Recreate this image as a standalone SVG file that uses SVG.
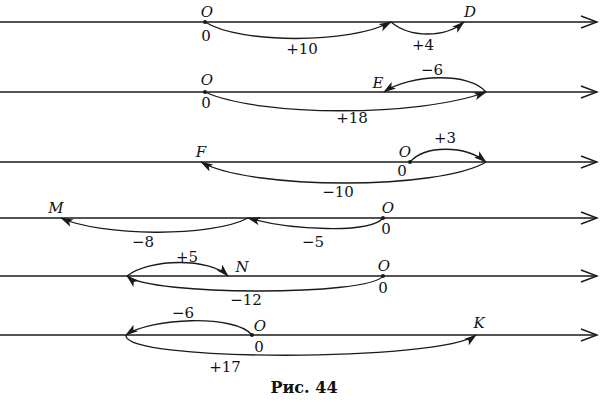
<svg xmlns="http://www.w3.org/2000/svg" width="613" height="402" viewBox="0 0 613 402">
<style>
.ax{stroke:#1a1a1a;stroke-width:1.4;fill:none}
.hd{stroke:#1a1a1a;stroke-width:1.4;fill:none;stroke-linejoin:miter}
.c{stroke:#1a1a1a;stroke-width:1.3;fill:none;marker-end:url(#ah)}
.t{font-family:"DejaVu Serif","Liberation Serif",serif;font-size:15px;fill:#111;text-anchor:middle}
.i{font-style:italic}
.cap{font-family:"DejaVu Serif","Liberation Serif",serif;font-size:16px;font-weight:bold;fill:#111;text-anchor:middle}
.d{fill:#1a1a1a}
</style>
<defs>
<marker id="ah" markerUnits="userSpaceOnUse" markerWidth="13" markerHeight="9" refX="12" refY="4.5" orient="auto" viewBox="0 0 13 9">
<path d="M0,0.5 L13,4.5 L0,8.5 L3,4.5 z" fill="#1a1a1a"/>
</marker>
</defs>
<g id="axes">
<path class="ax" d="M0,22 H597"/><path class="hd" d="M581,16 L597,22 L581,28"/>
<path class="ax" d="M0,92 H597"/><path class="hd" d="M581,86 L597,92 L581,98"/>
<path class="ax" d="M0,162 H597"/><path class="hd" d="M581,156 L597,162 L581,168"/>
<path class="ax" d="M0,218 H597"/><path class="hd" d="M581,212 L597,218 L581,224"/>
<path class="ax" d="M0,276 H597"/><path class="hd" d="M581,270 L597,276 L581,282"/>
<path class="ax" d="M0,335 H597"/><path class="hd" d="M581,329 L597,335 L581,341"/>
</g>
<g id="connectors">
<path class="c" d="M205,22 C240,44 350,44 391,22"/>
<path class="c" d="M391,22 C410,38 445,38 464,22"/>
<path class="c" d="M205,92 C260,117 420,117 486,92"/>
<path class="c" d="M486,92 C470,72 410,74 384,92"/>
<path class="c" d="M410,162 C425,145 465,145 486,162"/>
<path class="c" d="M486,162 C440,190 250,190 201,162"/>
<path class="c" d="M383,218 C370,234 290,230 248,218"/>
<path class="c" d="M248,218 C210,238 100,236 61,218"/>
<path class="c" d="M383,276 C370,296 150,296 127,276"/>
<path class="c" d="M127,276 C150,258 210,258 228,276"/>
<path class="c" d="M252,335 C235,314 150,318 126,335"/>
<path class="c" d="M126,335 C120,362 440,362 476,335"/>
</g>
<g id="row1">
<circle class="d" cx="205" cy="22" r="2"/>
<text class="t i" x="207" y="17">O</text>
<text class="t" x="206" y="41">0</text>
<text class="t" x="302" y="54">+10</text>
<text class="t" x="423" y="50">+4</text>
<text class="t i" x="470" y="17">D</text>
</g>
<g id="row2">
<circle class="d" cx="205" cy="92" r="2"/>
<text class="t i" x="207" y="85">O</text>
<text class="t" x="206" y="108">0</text>
<text class="t i" x="378" y="88">E</text>
<text class="t" x="432" y="75">−6</text>
<text class="t" x="352" y="123">+18</text>
</g>
<g id="row3">
<circle class="d" cx="410" cy="162" r="2"/>
<text class="t i" x="201" y="157">F</text>
<text class="t i" x="405" y="157">O</text>
<text class="t" x="402" y="176">0</text>
<text class="t" x="445" y="143">+3</text>
<text class="t" x="338" y="197">−10</text>
</g>
<g id="row4">
<circle class="d" cx="383" cy="218" r="2"/>
<text class="t i" x="56" y="213">M</text>
<text class="t i" x="388" y="213">O</text>
<text class="t" x="386" y="234">0</text>
<text class="t" x="143" y="247">−8</text>
<text class="t" x="313" y="247">−5</text>
</g>
<g id="row5">
<circle class="d" cx="383" cy="276" r="2"/>
<text class="t" x="187" y="262">+5</text>
<text class="t i" x="242" y="272">N</text>
<text class="t i" x="384" y="271">O</text>
<text class="t" x="383" y="293">0</text>
<text class="t" x="246" y="305">−12</text>
</g>
<g id="row6">
<circle class="d" cx="252" cy="335" r="2"/>
<text class="t" x="183" y="318">−6</text>
<text class="t i" x="260" y="331">O</text>
<text class="t" x="259" y="352">0</text>
<text class="t i" x="479" y="328">K</text>
<text class="t" x="225" y="372">+17</text>
</g>
<text class="cap" x="304" y="393">Рис. 44</text>
</svg>
